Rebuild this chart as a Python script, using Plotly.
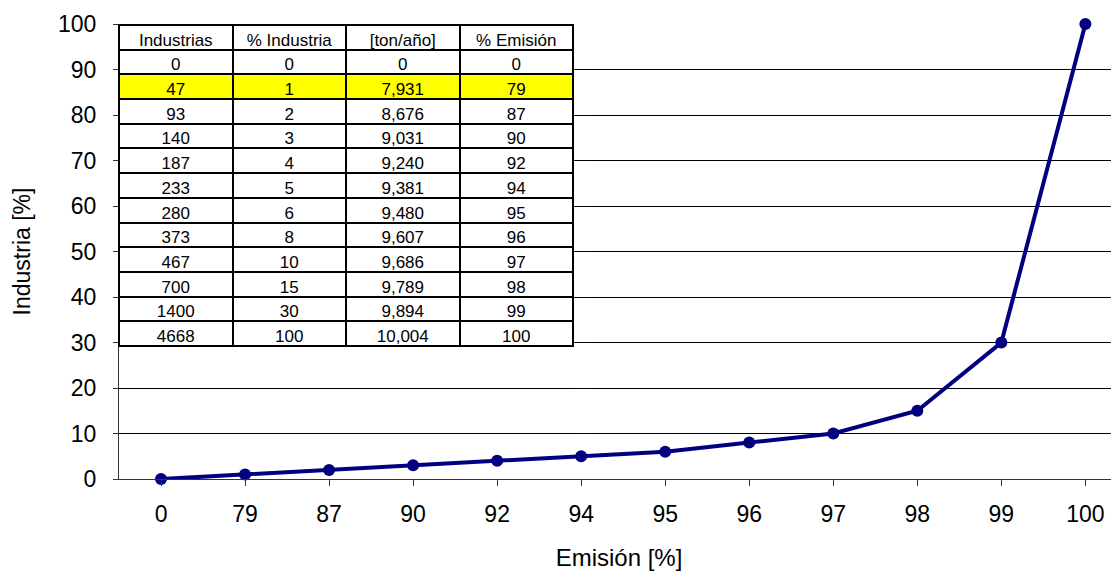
import plotly.graph_objects as go

# Data
emision_labels = ["0", "79", "87", "90", "92", "94", "95", "96", "97", "98", "99", "100"]
industria_pct = [0, 1, 2, 3, 4, 5, 6, 8, 10, 15, 30, 100]

tbl_header = ["Industrias", "% Industria", "[ton/año]", "% Emisión"]
tbl_industrias = ["0", "47", "93", "140", "187", "233", "280", "373", "467", "700", "1400", "4668"]
tbl_pct_ind = ["0", "1", "2", "3", "4", "5", "6", "8", "10", "15", "30", "100"]
tbl_ton = ["0", "7,931", "8,676", "9,031", "9,240", "9,381", "9,480", "9,607", "9,686", "9,789", "9,894", "10,004"]
tbl_pct_em = ["0", "79", "87", "90", "92", "94", "95", "96", "97", "98", "99", "100"]
highlight_row = 1

FONT = "Liberation Sans, Arial, sans-serif"

fig = go.Figure()

fig.add_trace(go.Scatter(
    x=list(range(len(emision_labels))), y=industria_pct,
    mode="lines+markers",
    line=dict(color="#000080", width=4),
    marker=dict(color="#000080", size=12),
    cliponaxis=False, showlegend=False,
))

n = len(tbl_industrias)
fills = [["#FFFF00" if i == highlight_row else "white" for i in range(n)] for _ in range(4)]

fig.add_trace(go.Table(
    domain=dict(x=[0, 0.454], y=[0.0, 0.998]),
    columnwidth=[1, 1, 1, 1],
    header=dict(values=tbl_header, fill_color="white",
                line=dict(color="black", width=2),
                font=dict(family=FONT, size=17, color="black"),
                align="center", height=24.7),
    cells=dict(values=[tbl_industrias, tbl_pct_ind, tbl_ton, tbl_pct_em],
               fill_color=fills,
               line=dict(color="black", width=2),
               font=dict(family=FONT, size=17, color="black"),
               align="center", height=24.7),
))

fig.update_layout(
    width=1111, height=563,
    margin=dict(l=111, r=0, t=16, b=92),
    paper_bgcolor="white", plot_bgcolor="white",
    font=dict(family=FONT, size=23, color="black"),
    xaxis=dict(
        tickmode="array", tickvals=list(range(len(emision_labels))), ticktext=emision_labels,
        range=[-0.5, 11.4], tickson="boundaries", ticks="outside", ticklen=6,
        tickcolor="#333", showgrid=False, showline=True, linecolor="#333", linewidth=1,
        zeroline=False, automargin=False, ticklabelstandoff=8,
        title=dict(text="Emisión [%]", font=dict(size=24), standoff=38),
        tickfont=dict(size=23),
    ),
    yaxis=dict(
        range=[0, 100], dtick=10, ticks="outside", ticklen=5, tickcolor="#333",
        showgrid=True, gridcolor="black", gridwidth=1,
        showline=True, linecolor="#333", linewidth=1, zeroline=False, automargin=False,
        ticklabelstandoff=12,
        title=dict(text="Industria [%]", font=dict(size=23), standoff=20),
        tickfont=dict(size=23),
    ),
)

fig.write_html("out.html")
